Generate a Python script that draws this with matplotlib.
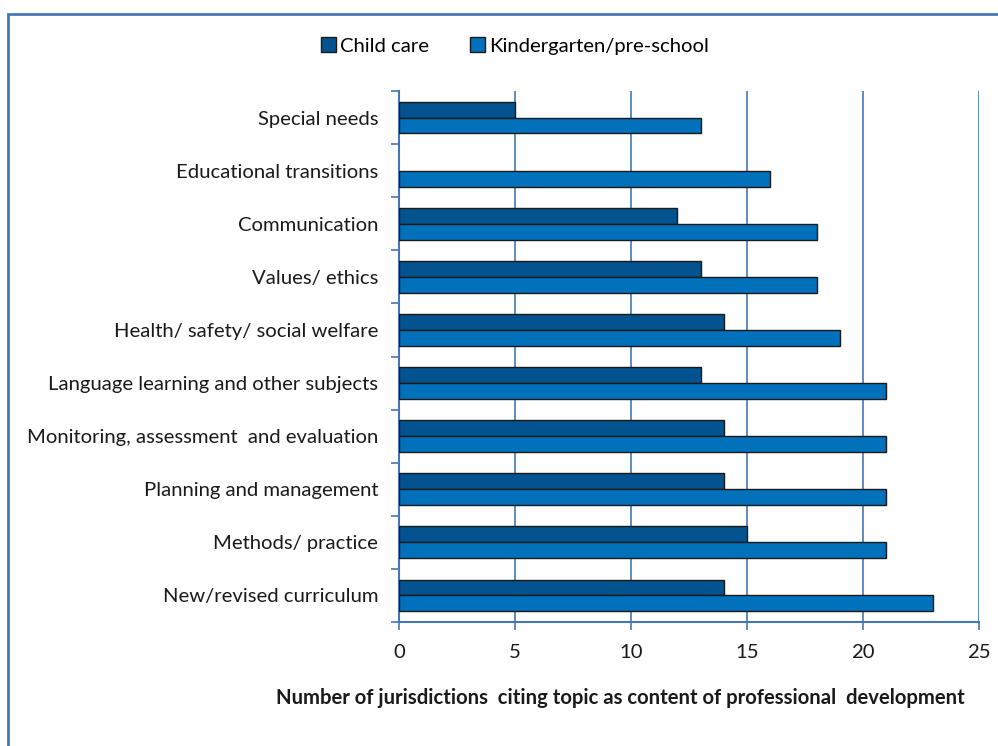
import numpy as np
import matplotlib
matplotlib.use('Agg')
import matplotlib.pyplot as plt
from matplotlib.patches import Rectangle
from matplotlib.ticker import MultipleLocator

plt.rcParams['font.family'] = ['Lato', 'DejaVu Sans']

topics = ['Special needs', 'Educational transitions', 'Communication', 'Values/ ethics',
          'Health/ safety/ social welfare', 'Language learning and other subjects',
          'Monitoring, assessment  and evaluation', 'Planning and management',
          'Methods/ practice', 'New/revised curriculum']
child_care = [5, 0, 12, 13, 14, 13, 14, 14, 15, 14]
kindergarten = [13, 16, 18, 18, 19, 21, 21, 21, 21, 23]

blue_line = '#4677B5'
dark = '#02538F'
light = '#0071BA'
fs = 14.6

fig = plt.figure(figsize=(9.98, 7.46), dpi=100)
ax = fig.add_axes([399/998, 1 - 622/746, 580/998, 531/746])

y = np.arange(len(topics))
h = 0.3
ax.barh(y - h/2, child_care, height=h, color=dark, edgecolor='#1a1a1a',
        lw=[1 if v else 0 for v in child_care], label='Child care', zorder=3)
ax.barh(y + h/2, kindergarten, height=h, color=light, edgecolor='#1a1a1a',
        lw=[1 if v else 0 for v in kindergarten], label='Kindergarten/pre-school', zorder=3)

ax.set_xlim(0, 25)
ax.set_ylim(len(topics) - 0.5, -0.5)
ax.xaxis.set_major_locator(MultipleLocator(5))
ax.grid(axis='x', color=blue_line, lw=1.2, zorder=0)

ax.set_yticks(y)
ax.set_yticklabels(topics)
ax.set_yticks(np.arange(len(topics) + 1) - 0.5, minor=True)
ax.tick_params(axis='y', which='major', length=0, pad=15, labelsize=fs, labelcolor='#1a1a1a')
ax.tick_params(axis='y', which='minor', length=6, color=blue_line, width=1.2, direction='out')
ax.tick_params(axis='x', length=6, color=blue_line, width=1.2, pad=10, labelsize=fs, labelcolor='#1a1a1a')

for s in ['top', 'right']:
    ax.spines[s].set_visible(False)
for s in ['left', 'bottom']:
    ax.spines[s].set_color(blue_line)
    ax.spines[s].set_linewidth(1.5)

ax.set_xlabel('Number of jurisdictions  citing topic as content of professional  development',
              fontsize=fs, fontweight='bold', color='#1a1a1a')
ax.xaxis.set_label_coords(0.381, -0.124)

fig.legend(loc='center', bbox_to_anchor=(515/998, 1 - 46/746), ncol=2, frameon=False,
           fontsize=fs, handlelength=0.75, handleheight=0.75, handletextpad=0.2, columnspacing=2.0)

fig.patches.append(Rectangle((8/998, -0.1), 1.1, 1.1 - 14/746, transform=fig.transFigure,
                             fill=False, edgecolor=blue_line, lw=2))

fig.savefig('out.png', dpi=100)
